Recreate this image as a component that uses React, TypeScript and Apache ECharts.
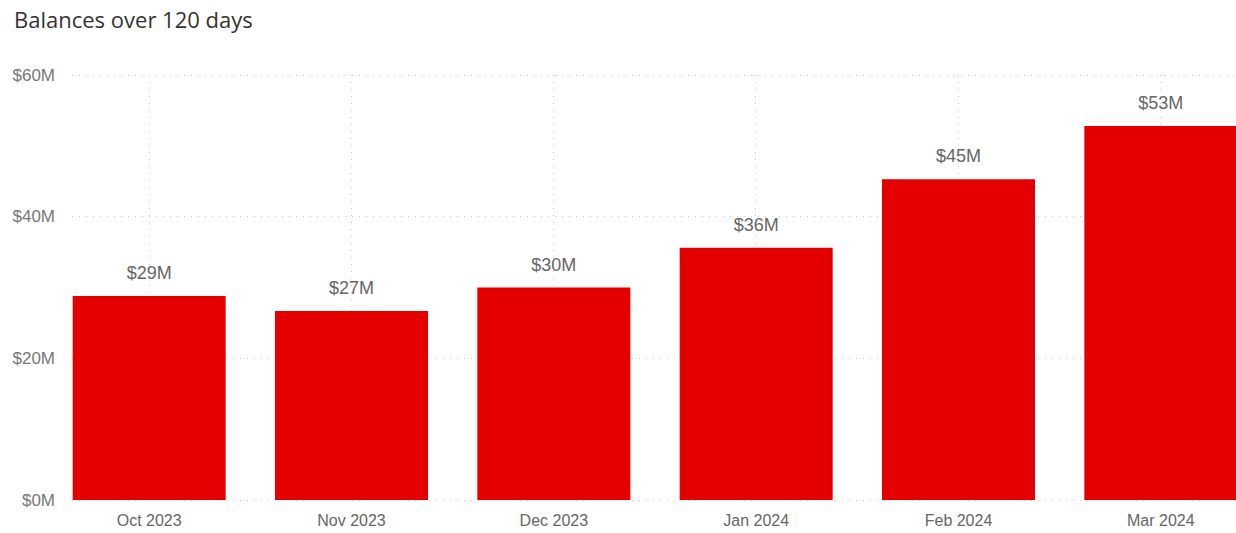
import React, { useEffect, useRef } from "react";
import * as echarts from "echarts";

const categories = ["Oct 2023", "Nov 2023", "Dec 2023", "Jan 2024", "Feb 2024", "Mar 2024"];
const balances = [28.8, 26.7, 30.0, 35.6, 45.3, 52.8];
const yTicks = [0, 20, 40, 60];

export default function App() {
  const ref = useRef<HTMLDivElement>(null);
  useEffect(() => {
    document.body.style.overflow = "hidden";
    if (!ref.current) return;
    const chart = echarts.init(ref.current, undefined, { renderer: "svg" });
    const dotted = { color: "#c8c8c8", width: 1, type: [1, 6] as any };
    chart.setOption({
      animation: false,
      title: {
        text: "Balances over 120 days",
        left: 9,
        top: 3,
        textStyle: { fontFamily: "Open Sans", fontSize: 22, fontWeight: "normal", color: "#333" },
      },
      grid: [
        { left: 48, right: 0, top: 75, height: 425 },
        { left: 72, right: 26, top: 75, height: 425 },
        { left: 149, width: 1011, top: 75, height: 425 },
      ],
      xAxis: [
        {
          type: "category",
          gridIndex: 0,
          data: categories,
          axisLine: { show: false },
          axisTick: { show: false },
          splitLine: { show: false },
          axisLabel: { color: "#666", fontSize: 16, fontFamily: "Liberation Sans, Arial", margin: 12 },
        },
        { type: "value", gridIndex: 1, min: 0, max: 1, show: false },
        {
          type: "value",
          gridIndex: 2,
          min: 0,
          max: 5,
          interval: 1,
          axisLine: { show: false },
          axisTick: { show: false },
          axisLabel: { show: false },
          splitLine: { show: true, lineStyle: dotted },
        },
      ],
      yAxis: [
        { type: "value", gridIndex: 0, min: 0, max: 60, show: false },
        {
          type: "value",
          gridIndex: 1,
          min: 0,
          max: 60,
          interval: 20,
          axisLine: { show: false },
          axisTick: { show: false },
          axisLabel: {
            color: "#777",
            fontSize: 17,
            fontFamily: "Liberation Sans, Arial",
            margin: 17,
            formatter: (v: number) => (yTicks.includes(v) ? `$${v}M` : ""),
          },
          splitLine: { show: true, lineStyle: dotted },
        },
        { type: "value", gridIndex: 2, min: 0, max: 60, show: false },
      ],
      series: [
        {
          type: "line",
          xAxisIndex: 2,
          yAxisIndex: 2,
          data: [],
        },
        {
          type: "bar",
          xAxisIndex: 0,
          yAxisIndex: 0,
          data: balances,
          barWidth: 153,
          z: 5,
          itemStyle: { color: "#E40000" },
          label: {
            show: true,
            position: "top",
            distance: 14,
            color: "#666",
            fontSize: 18,
            fontFamily: "Liberation Sans, Arial",
            formatter: (p: any) => `$${Math.round(p.value)}M`,
          },
        },
      ],
    });
    return () => chart.dispose();
  }, []);
  return (
    <div
      ref={ref}
      style={{ position: "fixed", left: 0, top: 0, width: 1262, height: 533, background: "#fff" }}
    />
  );
}
